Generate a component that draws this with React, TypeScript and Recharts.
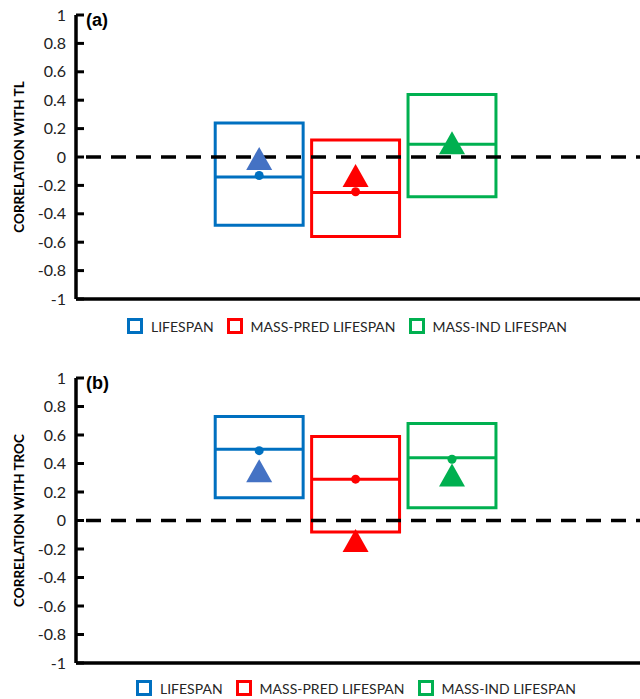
import React from "react";
import {
  ComposedChart,
  XAxis,
  YAxis,
  Scatter,
  Cell,
  ReferenceArea,
  ReferenceLine,
  Legend,
} from "recharts";

const GROUPS = ["LIFESPAN", "MASS-PRED LIFESPAN", "MASS-IND LIFESPAN"];
const GROUP_X = [1, 2, 3];
const BOX_COLORS = ["#0070C0", "#FF0000", "#00B050"];
const TRI_COLORS = ["#4472C4", "#FF0000", "#00B050"];
const Y_TICKS = [-1, -0.8, -0.6, -0.4, -0.2, 0, 0.2, 0.4, 0.6, 0.8, 1];

// (a) correlation with TL
const TL_LOW = [-0.48, -0.56, -0.28];
const TL_HIGH = [0.24, 0.12, 0.44];
const TL_MID = [-0.14, -0.25, 0.09];
const TL_DOT = [-0.13, -0.245, 0.09];
const TL_TRI = [-0.01, -0.13, 0.1];

// (b) correlation with TROC
const TROC_LOW = [0.16, -0.08, 0.09];
const TROC_HIGH = [0.73, 0.59, 0.68];
const TROC_MID = [0.5, 0.29, 0.44];
const TROC_DOT = [0.49, 0.29, 0.43];
const TROC_TRI = [0.35, -0.14, 0.32];

const X_DOMAIN = [-0.9, 4.95];
const HALF = 0.456;
const FONT = "Lato, 'Open Sans', sans-serif";

const Dot = (props: any) => {
  const { cx, cy, fill } = props;
  return <circle cx={cx} cy={cy} r={4.5} fill={fill} />;
};

const Triangle = (props: any) => {
  const { cx, cy, fill } = props;
  return (
    <polygon
      points={`${cx},${cy - 11.5} ${cx + 13},${cy + 11.5} ${cx - 13},${cy + 11.5}`}
      fill={fill}
    />
  );
};

const YTick = ({ x, y, payload }: any) => (
  <g>
    <line x1={x + 10} x2={x + 18} y1={y} y2={y} stroke="#000" strokeWidth={3} />
    <text x={x} y={y} dy={5.5} textAnchor="end" fontSize={16} fill="#222" fontFamily={FONT}>
      {payload.value}
    </text>
  </g>
);

const LegendRow = ({ left }: { left: number }) => (
  <div
    style={{
      display: "flex",
      alignItems: "center",
      paddingLeft: left,
      height: 24,
      fontFamily: FONT,
      fontSize: 14,
      color: "#262626",
    }}
  >
    {GROUPS.map((g, i) => (
      <div key={g} style={{ display: "flex", alignItems: "center", marginRight: 13 }}>
        <span
          style={{
            display: "inline-block",
            width: 10,
            height: 10,
            border: `3px solid ${BOX_COLORS[i]}`,
            marginRight: 8,
          }}
        />
        <span>{g}</span>
      </div>
    ))}
  </div>
);

interface PanelProps {
  top: number;
  tag: string;
  yTitle: string;
  low: number[];
  high: number[];
  mid: number[];
  dot: number[];
  tri: number[];
  marginTop: number;
  marginBottom: number;
  legendLeft: number;
}

function Panel({ top, tag, yTitle, low, high, mid, dot, tri, marginTop, marginBottom, legendLeft }: PanelProps) {
  const dots = GROUP_X.map((x, i) => ({ x, y: dot[i] }));
  const tris = GROUP_X.map((x, i) => ({ x, y: tri[i] }));

  return (
    <div style={{ position: "absolute", left: 0, top, width: 640, height: 345 }}>
      <ComposedChart
        width={640}
        height={345}
        margin={{ top: marginTop, right: 0, bottom: marginBottom, left: 0 }}
      >
        <XAxis
          type="number"
          dataKey="x"
          domain={X_DOMAIN}
          allowDataOverflow
          tick={false}
          tickLine={false}
          axisLine={{ stroke: "#000", strokeWidth: 3.5 }}
          height={2}
        />
        <YAxis
          type="number"
          dataKey="y"
          domain={[-1, 1]}
          ticks={Y_TICKS}
          interval={0}
          allowDataOverflow
          width={76}
          tickSize={0}
          tickMargin={10}
          tickLine={false}
          tick={<YTick />}
          axisLine={{ stroke: "#000", strokeWidth: 3.5 }}
          label={(p: any) => (
            <text
              transform={`translate(24, ${p.viewBox.y + p.viewBox.height / 2}) rotate(-90)`}
              textAnchor="middle"
              fontWeight="bold"
              fontSize={13.5}
              fontFamily={FONT}
              fill="#000"
            >
              {yTitle}
            </text>
          )}
        />
        {GROUP_X.map((x, i) => (
          <ReferenceArea
            key={`box-${i}`}
            x1={x - HALF}
            x2={x + HALF}
            y1={low[i]}
            y2={high[i]}
            fill="none"
            fillOpacity={0}
            stroke={BOX_COLORS[i]}
            strokeWidth={3}
            strokeOpacity={1}
          />
        ))}
        {GROUP_X.map((x, i) => (
          <ReferenceLine
            key={`mid-${i}`}
            segment={[
              { x: x - HALF, y: mid[i] },
              { x: x + HALF, y: mid[i] },
            ]}
            stroke={BOX_COLORS[i]}
            strokeWidth={3}
          />
        ))}
        <ReferenceLine y={0} stroke="#000" strokeWidth={3.5} strokeDasharray="15 10" strokeDashoffset={-10} />
        <Scatter data={dots} shape={<Dot />} isAnimationActive={false}>
          {dots.map((_, i) => (
            <Cell key={`dot-${i}`} fill={BOX_COLORS[i]} />
          ))}
        </Scatter>
        <Scatter data={tris} shape={<Triangle />} isAnimationActive={false}>
          {tris.map((_, i) => (
            <Cell key={`tri-${i}`} fill={TRI_COLORS[i]} />
          ))}
        </Scatter>
        <Legend
          content={() => <LegendRow left={legendLeft} />}
          wrapperStyle={{ left: 0, top: 314, width: 640, height: 24 }}
        />
      </ComposedChart>
      <div
        style={{
          position: "absolute",
          left: 86,
          top: marginTop - 5,
          fontFamily: "'Liberation Sans', Arial, sans-serif",
          fontWeight: "bold",
          fontSize: 18,
          lineHeight: "20px",
          color: "#000",
        }}
      >
        {tag}
      </div>
    </div>
  );
}

export default function App() {
  return (
    <div style={{ position: "absolute", left: 0, top: 0, width: 640, height: 699, background: "#fff" }}>
      <Panel
        top={0}
        tag="(a)"
        yTitle="CORRELATION  WITH  TL"
        low={TL_LOW}
        high={TL_HIGH}
        mid={TL_MID}
        dot={TL_DOT}
        tri={TL_TRI}
        marginTop={15}
        marginBottom={20}
        legendLeft={127}
      />
      <Panel
        top={362}
        tag="(b)"
        yTitle="CORRELATION  WITH  TROC"
        low={TROC_LOW}
        high={TROC_HIGH}
        mid={TROC_MID}
        dot={TROC_DOT}
        tri={TROC_TRI}
        marginTop={16}
        marginBottom={18}
        legendLeft={136}
      />
    </div>
  );
}
